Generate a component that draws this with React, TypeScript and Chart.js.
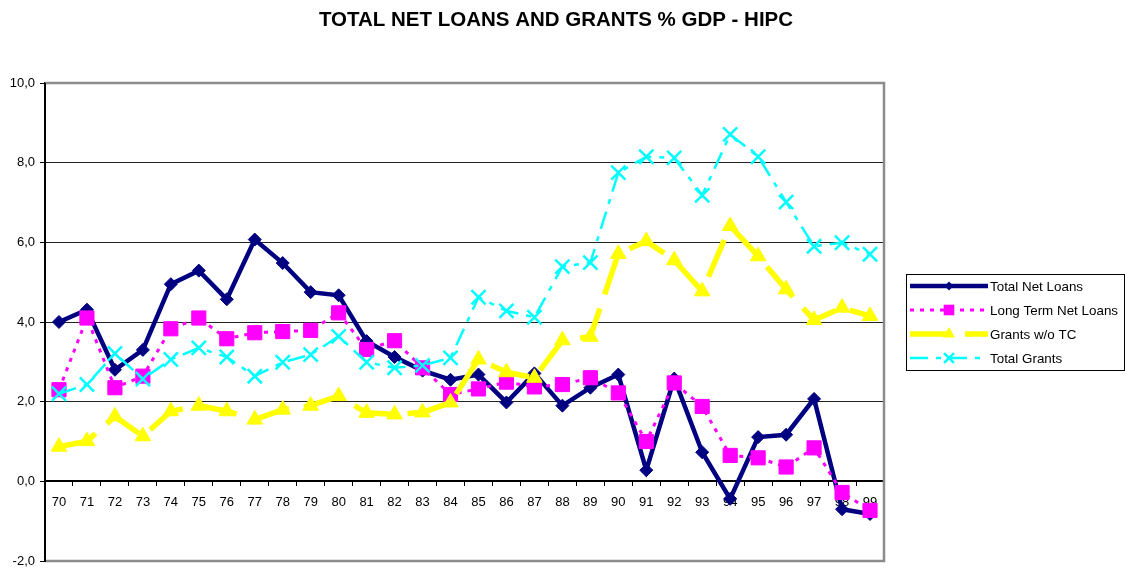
import React, { useEffect, useRef } from 'react';
import { Chart, registerables } from 'chart.js';

Chart.register(...registerables);

const chartTitle = 'TOTAL NET LOANS AND GRANTS % GDP - HIPC';

const years = [
  '70', '71', '72', '73', '74', '75', '76', '77', '78', '79',
  '80', '81', '82', '83', '84', '85', '86', '87', '88', '89',
  '90', '91', '92', '93', '94', '95', '96', '97', '98', '99',
];

const seriesNames = ['Total Net Loans', 'Long Term Net Loans', 'Grants w/o TC', 'Total Grants'];

const totalNetLoans = [
  4.0, 4.31, 2.8, 3.3, 4.95, 5.29, 4.57, 6.07, 5.48, 4.75,
  4.67, 3.52, 3.12, 2.78, 2.55, 2.68, 1.98, 2.71, 1.9, 2.35,
  2.68, 0.28, 2.58, 0.73, -0.44, 1.11, 1.17, 2.07, -0.7, -0.82,
];

const longTermNetLoans = [
  2.3, 4.1, 2.35, 2.64, 3.83, 4.1, 3.58, 3.73, 3.76, 3.79,
  4.23, 3.31, 3.53, 2.85, 2.18, 2.32, 2.49, 2.37, 2.43, 2.6,
  2.22, 1.0, 2.47, 1.88, 0.65, 0.59, 0.36, 0.84, -0.28, -0.73,
];

const grantsWoTC = [
  0.87, 1.01, 1.63, 1.13, 1.76, 1.9, 1.76, 1.55, 1.8, 1.9,
  2.14, 1.72, 1.68, 1.73, 1.98, 3.06, 2.74, 2.6, 3.54, 3.63,
  5.71, 6.03, 5.55, 4.77, 6.41, 5.65, 4.82, 4.05, 4.36, 4.15,
];

const totalGrants = [
  2.2, 2.43, 3.21, 2.57, 3.06, 3.35, 3.12, 2.64, 2.99, 3.18,
  3.64, 2.99, 2.85, 2.91, 3.1, 4.62, 4.28, 4.12, 5.39, 5.49,
  7.75, 8.15, 8.12, 7.18, 8.71, 8.15, 7.01, 5.9, 5.99, 5.7,
];

const yMin = -2;
const yMax = 10;
const yStep = 2;

const FONT = '"Liberation Sans", Arial, sans-serif';

function drawMarker(ctx: CanvasRenderingContext2D, style: string, x: number, y: number, r: number, color: string, lw: number) {
  ctx.save();
  ctx.fillStyle = color;
  ctx.strokeStyle = color;
  ctx.lineWidth = lw;
  ctx.setLineDash([]);
  ctx.beginPath();
  if (style === 'rectRot') {
    ctx.moveTo(x - r, y);
    ctx.lineTo(x, y - r);
    ctx.lineTo(x + r, y);
    ctx.lineTo(x, y + r);
    ctx.closePath();
    ctx.fill();
  } else if (style === 'rect') {
    const s = r * Math.SQRT1_2;
    ctx.rect(x - s, y - s, 2 * s, 2 * s);
    ctx.fill();
  } else if (style === 'triangle') {
    for (let i = 0; i < 3; i++) {
      const a = (i * 2 * Math.PI) / 3;
      const px = x + Math.sin(a) * r;
      const py = y - Math.cos(a) * r;
      if (i === 0) ctx.moveTo(px, py);
      else ctx.lineTo(px, py);
    }
    ctx.closePath();
    ctx.fill();
  } else if (style === 'crossRot') {
    const s = r * Math.SQRT1_2;
    ctx.moveTo(x - s, y - s);
    ctx.lineTo(x + s, y + s);
    ctx.moveTo(x - s, y + s);
    ctx.lineTo(x + s, y - s);
    ctx.stroke();
  }
  ctx.restore();
}

const decorPlugin = {
  id: 'decor',
  beforeDatasetsDraw(chart: any) {
    const { ctx, chartArea } = chart;
    ctx.save();
    ctx.strokeStyle = '#8c8c8c';
    ctx.lineWidth = 2.5;
    ctx.setLineDash([]);
    ctx.beginPath();
    ctx.moveTo(chartArea.left, chartArea.top);
    ctx.lineTo(chartArea.right, chartArea.top);
    ctx.lineTo(chartArea.right, chartArea.bottom);
    ctx.lineTo(chartArea.left, chartArea.bottom);
    ctx.stroke();
    ctx.strokeStyle = '#000';
    ctx.lineWidth = 2;
    ctx.beginPath();
    ctx.moveTo(chartArea.left, chartArea.top);
    ctx.lineTo(chartArea.left, chartArea.bottom + 1);
    ctx.stroke();
    ctx.restore();
  },
  afterDraw(chart: any) {
    const { ctx } = chart;
    ctx.save();
    ctx.fillStyle = '#000';
    ctx.font = 'bold 20.5px ' + FONT;
    ctx.textAlign = 'center';
    ctx.textBaseline = 'middle';
    ctx.fillText(chartTitle, 556, 20);

    const bx = 906, by = 274, bw = 218, bh = 96;
    ctx.fillStyle = '#fff';
    ctx.fillRect(bx, by, bw, bh);
    ctx.strokeStyle = '#000';
    ctx.lineWidth = 1;
    ctx.strokeRect(bx + 0.5, by + 0.5, bw, bh);

    const ds = chart.data.datasets;
    const legendOrder = [0, 1, 2, 3];
    const markerSize = [4.5, 7.5, 7, 7];
    legendOrder.forEach((idx, i) => {
      const d = ds[idx];
      const y = 286 + i * 24;
      ctx.save();
      ctx.strokeStyle = d.borderColor;
      ctx.lineWidth = d.borderWidth;
      ctx.setLineDash(d.borderDash || []);
      ctx.beginPath();
      ctx.moveTo(910, y);
      ctx.lineTo(988, y);
      ctx.stroke();
      ctx.restore();
      drawMarker(ctx, d.pointStyle, 949, y, markerSize[idx], d.pointBackgroundColor, d.pointBorderWidth);
      ctx.fillStyle = '#000';
      ctx.font = '13.4px ' + FONT;
      ctx.textAlign = 'left';
      ctx.textBaseline = 'middle';
      ctx.fillText(d.label, 990, y + 1);
    });
    ctx.restore();
  },
};

export default function App() {
  const canvasRef = useRef<HTMLCanvasElement | null>(null);

  useEffect(() => {
    const canvas = canvasRef.current;
    if (!canvas) return;
    Chart.defaults.font.family = FONT;
    Chart.defaults.font.size = 13;
    Chart.defaults.color = '#000';

    const chart = new Chart(canvas, {
      type: 'line',
      data: {
        labels: years,
        datasets: [
          {
            label: seriesNames[0],
            data: totalNetLoans,
            borderColor: '#000080',
            backgroundColor: '#000080',
            borderWidth: 4.5,
            pointStyle: 'rectRot',
            pointRadius: 6.5,
            pointBackgroundColor: '#000080',
            pointBorderColor: '#000080',
            pointBorderWidth: 1,
            tension: 0,
            order: 4,
          },
          {
            label: seriesNames[1],
            data: longTermNetLoans,
            borderColor: '#ff00ff',
            backgroundColor: '#ff00ff',
            borderWidth: 3,
            borderDash: [4, 6],
            pointStyle: 'rect',
            pointRadius: 10,
            pointBackgroundColor: '#ff00ff',
            pointBorderColor: '#ff00ff',
            pointBorderWidth: 1,
            tension: 0,
            order: 3,
          },
          {
            label: seriesNames[2],
            data: grantsWoTC,
            borderColor: '#ffff00',
            backgroundColor: '#ffff00',
            borderWidth: 5.5,
            borderDash: [40, 15],
            pointStyle: 'triangle',
            pointRadius: 9,
            pointBackgroundColor: '#ffff00',
            pointBorderColor: '#ffff00',
            pointBorderWidth: 1,
            tension: 0,
            order: 2,
          },
          {
            label: seriesNames[3],
            data: totalGrants,
            borderColor: '#00ffff',
            backgroundColor: '#00ffff',
            borderWidth: 2.5,
            borderDash: [18, 8, 5, 8],
            pointStyle: 'crossRot',
            pointRadius: 10,
            pointBackgroundColor: '#00ffff',
            pointBorderColor: '#00ffff',
            pointBorderWidth: 2.5,
            tension: 0,
            order: 1,
          },
        ],
      },
      options: {
        responsive: false,
        animation: false,
        devicePixelRatio: 1,
        layout: { padding: { top: 83, right: 241, bottom: 13, left: 0 } },
        plugins: {
          legend: { display: false },
          title: { display: false },
          tooltip: { enabled: false },
        },
        scales: {
          x: {
            type: 'category',
            position: { y: 0 } as any,
            offset: true,
            afterFit: (scale: any) => { scale.height = 0; },
            grid: {
              display: true,
              drawOnChartArea: false,
              drawTicks: true,
              tickLength: 4,
              offset: true,
              color: '#000',
              lineWidth: 1,
            },
            border: { display: true, color: '#000', width: 2 },
            ticks: {
              color: '#000',
              font: { size: 13, family: FONT },
              padding: 9,
              maxRotation: 0,
              autoSkip: false,
            },
          },
          y: {
            type: 'linear',
            min: yMin,
            max: yMax,
            afterFit: (scale: any) => { scale.width = 45; },
            grid: {
              color: (c: any) => (c.tick && (c.tick.value === yMax || c.tick.value === yMin) ? 'rgba(0,0,0,0)' : '#222'),
              tickColor: '#000',
              tickLength: 5,
              lineWidth: 1,
            },
            border: { display: true, color: '#000', width: 2 },
            ticks: {
              stepSize: yStep,
              color: '#000',
              padding: 5,
              font: { size: 13, family: FONT },
              callback: (v: any) => Number(v).toFixed(1).replace('.', ','),
            },
          },
        },
      },
      plugins: [decorPlugin],
    });
    return () => chart.destroy();
  }, []);

  return (
    <div style={{ position: 'absolute', left: 0, top: 0, width: 1125, height: 574, background: '#fff' }}>
      <canvas ref={canvasRef} width={1125} height={574} style={{ width: 1125, height: 574, display: 'block' }} />
    </div>
  );
}
